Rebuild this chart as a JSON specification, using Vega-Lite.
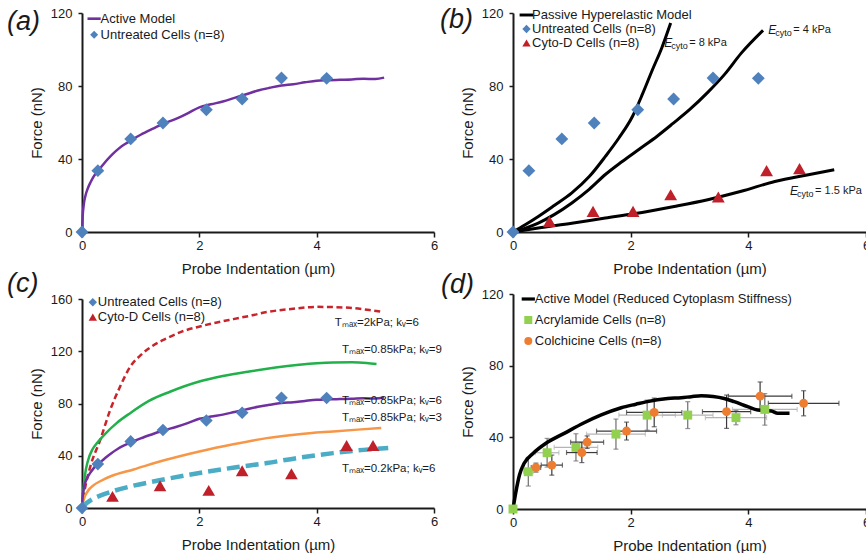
{
"$schema": "https://vega.github.io/schema/vega-lite/v6.json",
"background": "white",
"padding": {"left": 7, "top": 6, "right": 0, "bottom": 0},
"autosize": {"type": "pad"},
"config": {
  "font": "Liberation Sans",
  "view": {"stroke": null},
  "axis": {"domainColor": "#1a1a1a", "domainWidth": 2, "tickColor": "#1a1a1a", "tickWidth": 1.5, "labelFontSize": 13, "labelColor": "#1a1a1a", "titleFontSize": 15, "titleFontWeight": "normal", "titleColor": "#1a1a1a", "grid": false, "labelFont": "Liberation Sans", "titleFont": "Liberation Sans"},
  "axisX": {"tickSize": 5, "labelPadding": 2, "titlePadding": 9, "labelFlush": false},
  "axisY": {"tickSize": 4, "labelPadding": 6, "titlePadding": 6},
  "legend": {"labelFontSize": 13, "labelColor": "#1a1a1a", "labelFont": "Liberation Sans", "labelLimit": 400, "padding": 0, "symbolStrokeWidth": 0, "direction": "vertical", "orient": "none"},
  "title": {"anchor": "start", "frame": "group", "fontSize": 27, "fontStyle": "italic", "fontWeight": "normal", "color": "#1a1a1a", "offset": 0, "baseline": "alphabetic", "font": "Liberation Sans"}
},
"datasets": {
  "act": [{"x":0,"y":0},{"x":0.01,"y":8},{"x":0.03,"y":15},{"x":0.06,"y":20},{"x":0.1,"y":24},{"x":0.15,"y":27.5},{"x":0.2,"y":30.5},{"x":0.3,"y":34.5},{"x":0.4,"y":38.5},{"x":0.5,"y":42},{"x":0.6,"y":45},{"x":0.7,"y":47.5},{"x":0.8,"y":49.5},{"x":0.9,"y":51.5},{"x":1.0,"y":53.3},{"x":1.2,"y":56.5},{"x":1.4,"y":59.5},{"x":1.6,"y":62},{"x":1.8,"y":65},{"x":2.0,"y":68.3},{"x":2.2,"y":70},{"x":2.4,"y":71.5},{"x":2.6,"y":73.5},{"x":2.8,"y":75.5},{"x":3.0,"y":77.5},{"x":3.2,"y":79},{"x":3.4,"y":80.3},{"x":3.6,"y":81},{"x":3.8,"y":82},{"x":4.0,"y":82.9},{"x":4.2,"y":83.2},{"x":4.4,"y":83.4},{"x":4.6,"y":83.6},{"x":4.8,"y":84},{"x":5.0,"y":83.8},{"x":5.15,"y":84.6}],
  "unt": [{"s":"Untreated Cells (n=8)","x":0,"y":0},{"s":"Untreated Cells (n=8)","x":0.27,"y":33.6},{"s":"Untreated Cells (n=8)","x":0.83,"y":51},{"s":"Untreated Cells (n=8)","x":1.38,"y":59.7},{"s":"Untreated Cells (n=8)","x":2.12,"y":67},{"s":"Untreated Cells (n=8)","x":2.73,"y":72.9},{"s":"Untreated Cells (n=8)","x":3.4,"y":84.4},{"s":"Untreated Cells (n=8)","x":4.17,"y":84.2}],
  "bpts": [{"s":"Untreated Cells (n=8)","x":0,"y":0},{"s":"Untreated Cells (n=8)","x":0.27,"y":33.6},{"s":"Untreated Cells (n=8)","x":0.83,"y":51},{"s":"Untreated Cells (n=8)","x":1.38,"y":59.7},{"s":"Untreated Cells (n=8)","x":2.12,"y":67},{"s":"Untreated Cells (n=8)","x":2.73,"y":72.9},{"s":"Untreated Cells (n=8)","x":3.4,"y":84.4},{"s":"Untreated Cells (n=8)","x":4.17,"y":84.2},
    {"s":"Cyto-D Cells (n=8)","x":0.62,"y":5.8},{"s":"Cyto-D Cells (n=8)","x":1.36,"y":11.3},{"s":"Cyto-D Cells (n=8)","x":2.04,"y":11.3},{"s":"Cyto-D Cells (n=8)","x":2.68,"y":20.4},{"s":"Cyto-D Cells (n=8)","x":3.49,"y":19.2},{"s":"Cyto-D Cells (n=8)","x":4.31,"y":33.6},{"s":"Cyto-D Cells (n=8)","x":4.87,"y":34.7}],
  "cpts": [{"s":"Untreated Cells (n=8)","x":0,"y":0},{"s":"Untreated Cells (n=8)","x":0.27,"y":33.6},{"s":"Untreated Cells (n=8)","x":0.83,"y":51},{"s":"Untreated Cells (n=8)","x":1.38,"y":59.7},{"s":"Untreated Cells (n=8)","x":2.12,"y":67},{"s":"Untreated Cells (n=8)","x":2.73,"y":72.9},{"s":"Untreated Cells (n=8)","x":3.4,"y":84.4},{"s":"Untreated Cells (n=8)","x":4.17,"y":84.2},
    {"s":"Cyto-D Cells (n=8)","x":0.52,"y":8.9},{"s":"Cyto-D Cells (n=8)","x":1.33,"y":17},{"s":"Cyto-D Cells (n=8)","x":2.16,"y":13.5},{"s":"Cyto-D Cells (n=8)","x":2.73,"y":28.5},{"s":"Cyto-D Cells (n=8)","x":3.57,"y":26.2},{"s":"Cyto-D Cells (n=8)","x":4.51,"y":47.9},{"s":"Cyto-D Cells (n=8)","x":4.96,"y":47.9}],
  "pas": [{"E":"8","x":0,"y":0},{"E":"8","x":0.2,"y":3.8},{"E":"8","x":0.43,"y":8.5},{"E":"8","x":0.7,"y":14.5},{"E":"8","x":1.0,"y":21.4},{"E":"8","x":1.3,"y":30.5},{"E":"8","x":1.57,"y":41.4},{"E":"8","x":1.8,"y":51.5},{"E":"8","x":2.03,"y":63.3},{"E":"8","x":2.2,"y":75.5},{"E":"8","x":2.37,"y":88.9},{"E":"8","x":2.53,"y":101},{"E":"8","x":2.68,"y":114.5},
    {"E":"4","x":0,"y":0},{"E":"4","x":0.2,"y":2},{"E":"4","x":0.43,"y":4.9},{"E":"4","x":0.7,"y":9.5},{"E":"4","x":1.0,"y":15.9},{"E":"4","x":1.3,"y":23.5},{"E":"4","x":1.57,"y":31.5},{"E":"4","x":1.85,"y":38.5},{"E":"4","x":2.15,"y":45.5},{"E":"4","x":2.45,"y":52.5},{"E":"4","x":2.72,"y":59.5},{"E":"4","x":3.0,"y":67},{"E":"4","x":3.31,"y":76.5},{"E":"4","x":3.6,"y":86.5},{"E":"4","x":3.88,"y":98},{"E":"4","x":4.25,"y":110.5},
    {"E":"1.5","x":0,"y":0},{"E":"1.5","x":0.43,"y":2.2},{"E":"1.5","x":1.0,"y":4.8},{"E":"1.5","x":1.57,"y":7.7},{"E":"1.5","x":2.05,"y":10},{"E":"1.5","x":2.74,"y":14},{"E":"1.5","x":3.31,"y":17.7},{"E":"1.5","x":3.88,"y":22.3},{"E":"1.5","x":4.45,"y":27.7},{"E":"1.5","x":5.02,"y":31.4},{"E":"1.5","x":5.46,"y":34.1}],
  "blab": [{"r":"= 8 kPa","x":2.57,"y":103.6},{"r":"= 4 kPa","x":4.34,"y":110.8},{"r":"= 1.5 kPa","x":4.71,"y":22.2}],
  "ccur": [
    {"c":"r","x":0,"y":0},{"c":"r","x":0.03,"y":10},{"c":"r","x":0.06,"y":17},{"c":"r","x":0.15,"y":33},{"c":"r","x":0.31,"y":52},{"c":"r","x":0.48,"y":75},{"c":"r","x":0.65,"y":93},{"c":"r","x":0.82,"y":108},{"c":"r","x":1.0,"y":117},{"c":"r","x":1.2,"y":124},{"c":"r","x":1.45,"y":130},{"c":"r","x":1.7,"y":135},{"c":"r","x":2.01,"y":139},{"c":"r","x":2.3,"y":142},{"c":"r","x":2.58,"y":144.6},{"c":"r","x":2.9,"y":147.5},{"c":"r","x":3.15,"y":150},{"c":"r","x":3.6,"y":152.5},{"c":"r","x":4.0,"y":154},{"c":"r","x":4.56,"y":153.3},{"c":"r","x":4.9,"y":151.5},{"c":"r","x":5.14,"y":150},
    {"c":"g","x":0,"y":0},{"c":"g","x":0.02,"y":12},{"c":"g","x":0.05,"y":25},{"c":"g","x":0.1,"y":36},{"c":"g","x":0.18,"y":45},{"c":"g","x":0.26,"y":50},{"c":"g","x":0.4,"y":57},{"c":"g","x":0.59,"y":65},{"c":"g","x":0.82,"y":72.6},{"c":"g","x":1.14,"y":82},{"c":"g","x":1.5,"y":89},{"c":"g","x":2.0,"y":96.8},{"c":"g","x":2.4,"y":101},{"c":"g","x":2.85,"y":104.5},{"c":"g","x":3.3,"y":107.5},{"c":"g","x":3.7,"y":109.6},{"c":"g","x":4.0,"y":110.8},{"c":"g","x":4.28,"y":111.4},{"c":"g","x":4.6,"y":111.5},{"c":"g","x":4.85,"y":111},{"c":"g","x":5.02,"y":110.2},
    {"c":"o","x":0,"y":0},{"c":"o","x":0.03,"y":6.5},{"c":"o","x":0.1,"y":13},{"c":"o","x":0.2,"y":17.5},{"c":"o","x":0.31,"y":20.5},{"c":"o","x":0.5,"y":24.5},{"c":"o","x":0.88,"y":29.5},{"c":"o","x":1.4,"y":36.5},{"c":"o","x":2.0,"y":43.3},{"c":"o","x":2.6,"y":49},{"c":"o","x":3.15,"y":53.5},{"c":"o","x":3.7,"y":56.5},{"c":"o","x":4.28,"y":58.6},{"c":"o","x":4.7,"y":60},{"c":"o","x":5.1,"y":61.2},
    {"c":"b","x":0,"y":0},{"c":"b","x":0.06,"y":3},{"c":"b","x":0.15,"y":6},{"c":"b","x":0.31,"y":9.5},{"c":"b","x":0.5,"y":12.5},{"c":"b","x":0.82,"y":16.5},{"c":"b","x":1.3,"y":21},{"c":"b","x":2.0,"y":26.8},{"c":"b","x":2.6,"y":31},{"c":"b","x":3.15,"y":34.4},{"c":"b","x":3.7,"y":38.5},{"c":"b","x":4.28,"y":42},{"c":"b","x":4.8,"y":44.5},{"c":"b","x":5.22,"y":45.9}],
  "clab": [{"t":"Tₘₐₓ=2kPa; kᵥ=6","x":4.31,"y":141.5},{"t":"Tₘₐₓ=0.85kPa; kᵥ=9","x":4.43,"y":121},{"t":"Tₘₐₓ=0.85kPa; kᵥ=6","x":4.43,"y":82},{"t":"Tₘₐₓ=0.85kPa; kᵥ=3","x":4.43,"y":68.8},{"t":"Tₘₐₓ=0.2kPa; kᵥ=6","x":4.43,"y":30}],
  "dmod": [{"x":0,"y":0},{"x":0.05,"y":9.7},{"x":0.11,"y":19},{"x":0.19,"y":25.5},{"x":0.34,"y":31},{"x":0.56,"y":36.7},{"x":0.87,"y":42.2},{"x":1.2,"y":48},{"x":1.5,"y":52.5},{"x":1.84,"y":56.5},{"x":2.09,"y":58.5},{"x":2.26,"y":59.8},{"x":2.63,"y":61.7},{"x":2.86,"y":62.1},{"x":3.03,"y":62.7},{"x":3.2,"y":63.2},{"x":3.4,"y":62.8},{"x":3.59,"y":61.7},{"x":3.76,"y":59.9},{"x":3.99,"y":57.1},{"x":4.16,"y":55.2},{"x":4.39,"y":54.7},{"x":4.5,"y":53.4},{"x":4.7,"y":53.4}],
  "dpts": [
    {"s":"Acrylamide Cells (n=8)","x":0,"y":0,"xe":0,"ye":0},
    {"s":"Acrylamide Cells (n=8)","x":0.26,"y":20.8,"xe":0.08,"ye":8},
    {"s":"Acrylamide Cells (n=8)","x":0.58,"y":31.4,"xe":0.2,"ye":8},
    {"s":"Acrylamide Cells (n=8)","x":1.07,"y":34.4,"xe":0.37,"ye":7.6},
    {"s":"Acrylamide Cells (n=8)","x":1.75,"y":41.8,"xe":0.5,"ye":8.4},
    {"s":"Acrylamide Cells (n=8)","x":2.28,"y":52.4,"xe":0.48,"ye":8.4},
    {"s":"Acrylamide Cells (n=8)","x":2.97,"y":52.4,"xe":0.43,"ye":7.5},
    {"s":"Acrylamide Cells (n=8)","x":3.79,"y":51,"xe":0.52,"ye":4},
    {"s":"Acrylamide Cells (n=8)","x":4.28,"y":55.6,"xe":0.55,"ye":8.8},
    {"s":"Colchicine Cells (n=8)","x":0.39,"y":23.1,"xe":0.08,"ye":2.5},
    {"s":"Colchicine Cells (n=8)","x":0.66,"y":24.5,"xe":0.18,"ye":5.6},
    {"s":"Colchicine Cells (n=8)","x":1.17,"y":31.5,"xe":0.26,"ye":5.6},
    {"s":"Colchicine Cells (n=8)","x":1.26,"y":37.3,"xe":0.28,"ye":3.5},
    {"s":"Colchicine Cells (n=8)","x":1.93,"y":43.5,"xe":0.51,"ye":5},
    {"s":"Colchicine Cells (n=8)","x":2.4,"y":53.9,"xe":0.47,"ye":8},
    {"s":"Colchicine Cells (n=8)","x":3.63,"y":54.3,"xe":0.41,"ye":9.3},
    {"s":"Colchicine Cells (n=8)","x":4.2,"y":63,"xe":0.54,"ye":7.9},
    {"s":"Colchicine Cells (n=8)","x":4.94,"y":59,"xe":0.6,"ye":7}]
},
"bounds": "flush",
"spacing": 431,
"resolve": {"scale": {"x": "independent", "y": "independent", "fill": "independent", "shape": "independent"}, "legend": {"fill": "independent", "shape": "independent"}},
"hconcat": [
 {"bounds": "flush", "spacing": 67,
  "resolve": {"scale": {"x": "independent", "y": "independent", "fill": "independent", "shape": "independent"}, "legend": {"fill": "independent", "shape": "independent"}},
  "vconcat": [
  {"width": 352, "height": 219,
   "title": {"text": "(a)", "dx": -75, "dy": 33},
   "encoding": {
     "x": {"field": "x", "type": "quantitative", "scale": {"domain": [0, 6], "nice": false, "zero": false}, "axis": {"values": [0, 2, 4, 6], "title": "Probe Indentation (µm)"}},
     "y": {"field": "y", "type": "quantitative", "scale": {"domain": [0, 120], "nice": false}, "axis": {"values": [0, 40, 80, 120], "title": "Force (nN)"}}
   },
   "layer": [
     {"data": {"name": "act"}, "mark": {"type": "line", "color": "#7030A0", "strokeWidth": 2.5, "interpolate": "monotone"}},
     {"data": {"name": "unt"}, "mark": {"type": "point", "filled": true, "opacity": 1, "size": 165, "strokeWidth": 0},
      "encoding": {
        "fill": {"field": "s", "type": "nominal", "scale": {"domain": ["Active Model", "Untreated Cells (n=8)"], "range": ["#7030A0", "#4F81BD"]},
                 "legend": {"title": null, "orient": "none", "legendX": 5.6, "legendY": -0.8, "symbolSize": 64, "labelOffset": 0, "rowPadding": 2}},
        "shape": {"field": "s", "type": "nominal", "scale": {"domain": ["Active Model", "Untreated Cells (n=8)"], "range": ["M-1.65,-0.33H1.65V0.33H-1.65Z", "diamond"]},
                 "legend": {"title": null, "orient": "none", "legendX": 5.6, "legendY": -0.8, "symbolSize": 64, "labelOffset": 0, "rowPadding": 2}}
      }}
   ]},
  {"width": 352, "height": 209,
   "title": {"text": "(c)", "dx": -75, "dy": 9},
   "encoding": {
     "x": {"field": "x", "type": "quantitative", "scale": {"domain": [0, 6], "nice": false, "zero": false}, "axis": {"values": [0, 2, 4, 6], "title": "Probe Indentation (µm)"}},
     "y": {"field": "y", "type": "quantitative", "scale": {"domain": [0, 160], "nice": false}, "axis": {"values": [0, 40, 80, 120, 160], "title": "Force (nN)"}}
   },
   "layer": [
     {"data": {"name": "ccur"}, "transform": [{"filter": "datum.c == 'r'"}], "mark": {"type": "line", "color": "#C8242B", "strokeWidth": 2.5, "strokeDash": [6, 3.5], "interpolate": "monotone"}},
     {"data": {"name": "ccur"}, "transform": [{"filter": "datum.c == 'g'"}], "mark": {"type": "line", "color": "#22B04B", "strokeWidth": 2.5, "interpolate": "monotone"}},
     {"data": {"name": "ccur"}, "transform": [{"filter": "datum.c == 'o'"}], "mark": {"type": "line", "color": "#F79646", "strokeWidth": 2.5, "interpolate": "monotone"}},
     {"data": {"name": "ccur"}, "transform": [{"filter": "datum.c == 'b'"}], "mark": {"type": "line", "color": "#4BACC6", "strokeWidth": 4.5, "strokeDash": [13, 6], "interpolate": "monotone"}},
     {"data": {"name": "act"}, "mark": {"type": "line", "color": "#7030A0", "strokeWidth": 2.5, "interpolate": "monotone"}},
     {"data": {"name": "cpts"}, "mark": {"type": "point", "filled": true, "opacity": 1, "size": 160, "strokeWidth": 0},
      "encoding": {
        "fill": {"field": "s", "type": "nominal", "scale": {"domain": ["Untreated Cells (n=8)", "Cyto-D Cells (n=8)"], "range": ["#4F81BD", "#C0202A"]},
                 "legend": {"title": null, "orient": "none", "legendX": 4.3, "legendY": -3.3, "symbolSize": 70, "labelOffset": -1.5, "rowPadding": 1}},
        "shape": {"field": "s", "type": "nominal", "scale": {"domain": ["Untreated Cells (n=8)", "Cyto-D Cells (n=8)"], "range": ["diamond", "triangle-up"]},
                 "legend": {"title": null, "orient": "none", "legendX": 4.3, "legendY": -3.3, "symbolSize": 70, "labelOffset": -1.5, "rowPadding": 1}}
      }},
     {"data": {"name": "clab"}, "mark": {"type": "text", "align": "left", "baseline": "middle", "fontSize": 11.5, "color": "#1a1a1a"}, "encoding": {"text": {"field": "t"}}}
   ]}
 ]},
 {"bounds": "flush", "spacing": 62,
  "resolve": {"scale": {"x": "independent", "y": "independent", "fill": "independent", "shape": "independent"}, "legend": {"fill": "independent", "shape": "independent"}},
  "vconcat": [
  {"width": 353, "height": 219,
   "title": {"text": "(b)", "dx": -73, "dy": 31},
   "encoding": {
     "x": {"field": "x", "type": "quantitative", "scale": {"domain": [0, 6], "nice": false, "zero": false}, "axis": {"values": [0, 2, 4, 6], "title": "Probe Indentation (µm)"}},
     "y": {"field": "y", "type": "quantitative", "scale": {"domain": [0, 120], "nice": false}, "axis": {"values": [0, 40, 80, 120], "title": "Force (nN)"}}
   },
   "layer": [
     {"data": {"name": "pas"}, "mark": {"type": "line", "color": "#000000", "strokeWidth": 3, "interpolate": "monotone"}, "encoding": {"detail": {"field": "E"}}},
     {"data": {"name": "bpts"}, "mark": {"type": "point", "filled": true, "opacity": 1, "size": 165, "strokeWidth": 0},
      "encoding": {
        "fill": {"field": "s", "type": "nominal", "scale": {"domain": ["Passive Hyperelastic Model", "Untreated Cells (n=8)", "Cyto-D Cells (n=8)"], "range": ["#000000", "#4F81BD", "#C0202A"]},
                 "legend": {"title": null, "orient": "none", "legendX": 7, "legendY": -4.5, "symbolSize": 70, "labelOffset": -1, "rowPadding": -0.5}},
        "shape": {"field": "s", "type": "nominal", "scale": {"domain": ["Passive Hyperelastic Model", "Untreated Cells (n=8)", "Cyto-D Cells (n=8)"], "range": ["M-1.65,-0.35H1.65V0.35H-1.65Z", "diamond", "triangle-up"]},
                 "legend": {"title": null, "orient": "none", "legendX": 7, "legendY": -4.5, "symbolSize": 70, "labelOffset": -1, "rowPadding": -0.5}}
      }},
     {"data": {"name": "blab"}, "mark": {"type": "text", "text": "E", "align": "left", "baseline": "middle", "fontSize": 12, "fontStyle": "italic", "color": "#1a1a1a"}},
     {"data": {"name": "blab"}, "mark": {"type": "text", "text": "cyto", "align": "left", "baseline": "middle", "fontSize": 9, "dx": 7, "dy": 3, "color": "#1a1a1a"}},
     {"data": {"name": "blab"}, "mark": {"type": "text", "align": "left", "baseline": "middle", "fontSize": 11, "dx": 25, "color": "#1a1a1a"}, "encoding": {"text": {"field": "r"}}}
   ]},
  {"width": 353, "height": 215,
   "title": {"text": "(d)", "dx": -72, "dy": 14.5},
   "encoding": {
     "x": {"field": "x", "type": "quantitative", "scale": {"domain": [0, 6], "nice": false, "zero": false}, "axis": {"values": [0, 2, 4, 6], "title": "Probe Indentation (µm)"}},
     "y": {"field": "y", "type": "quantitative", "scale": {"domain": [0, 120], "nice": false}, "axis": {"values": [0, 40, 80, 120], "title": "Force (nN)"}}
   },
   "layer": [
     {"data": {"name": "dpts"}, "transform": [{"filter": "datum.s == 'Acrylamide Cells (n=8)'"}], "mark": {"type": "errorbar", "ticks": true, "color": "#b5b5b5", "thickness": 1.2}, "encoding": {"xError": {"field": "xe"}}},
     {"data": {"name": "dpts"}, "transform": [{"filter": "datum.s == 'Acrylamide Cells (n=8)'"}], "mark": {"type": "errorbar", "ticks": true, "color": "#6e6e6e", "thickness": 1.2}, "encoding": {"yError": {"field": "ye"}}},
     {"data": {"name": "dpts"}, "transform": [{"filter": "datum.s == 'Colchicine Cells (n=8)'"}], "mark": {"type": "errorbar", "ticks": true, "color": "#3a3a3a", "thickness": 1.2}, "encoding": {"xError": {"field": "xe"}}},
     {"data": {"name": "dpts"}, "transform": [{"filter": "datum.s == 'Colchicine Cells (n=8)'"}], "mark": {"type": "errorbar", "ticks": true, "color": "#3a3a3a", "thickness": 1.2}, "encoding": {"yError": {"field": "ye"}}},
     {"data": {"name": "dmod"}, "mark": {"type": "line", "color": "#000000", "strokeWidth": 3.5, "interpolate": "monotone"}},
     {"data": {"name": "dpts"}, "mark": {"type": "point", "filled": true, "opacity": 1, "size": 80, "strokeWidth": 0},
      "encoding": {
        "fill": {"field": "s", "type": "nominal", "scale": {"domain": ["Active Model (Reduced Cytoplasm Stiffness)", "Acrylamide Cells (n=8)", "Colchicine Cells (n=8)"], "range": ["#000000", "#92D050", "#ED7D31"]},
                 "legend": {"title": null, "orient": "none", "legendX": 8.8, "legendY": -1.5, "symbolSize": 64, "labelOffset": 0, "rowPadding": 7}},
        "shape": {"field": "s", "type": "nominal", "scale": {"domain": ["Active Model (Reduced Cytoplasm Stiffness)", "Acrylamide Cells (n=8)", "Colchicine Cells (n=8)"], "range": ["M-1.65,-0.4H1.65V0.4H-1.65Z", "square", "circle"]},
                 "legend": {"title": null, "orient": "none", "legendX": 8.8, "legendY": -1.5, "symbolSize": 64, "labelOffset": 0, "rowPadding": 7}}
      }}
   ]}
 ]}
]
}
